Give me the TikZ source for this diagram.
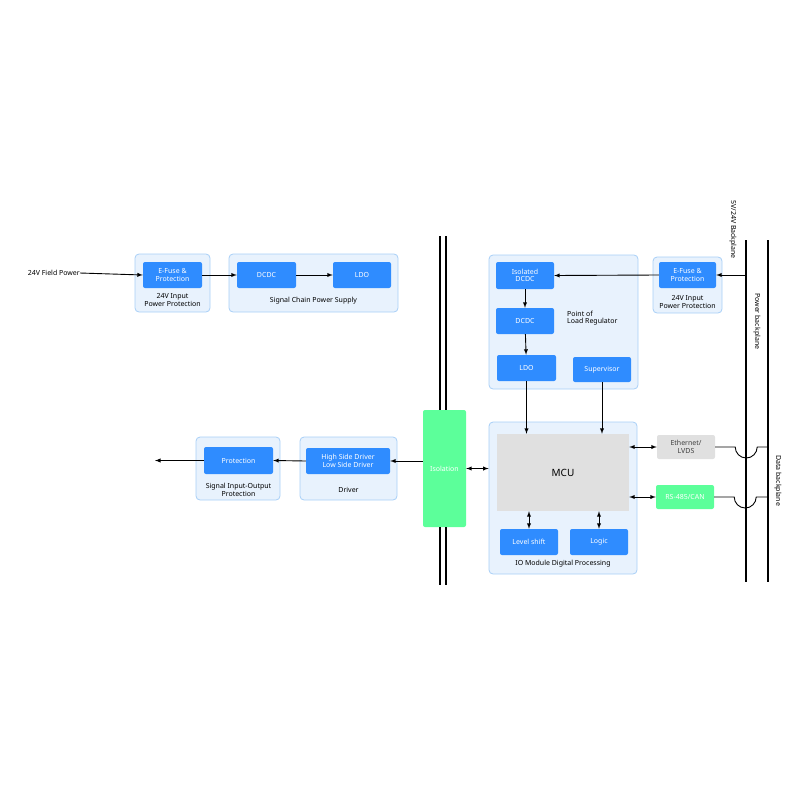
\documentclass[tikz,border=0pt]{standalone}
\usepackage{fontspec}
\setmainfont{Noto Sans}
\usetikzlibrary{positioning,calc,arrows}
\definecolor{boxblue}{HTML}{2F8CFF}
\definecolor{grpfill}{HTML}{E8F2FD}
\definecolor{grpline}{HTML}{A8CFF7}
\definecolor{mcugray}{HTML}{E0E0E0}
\definecolor{isogreen}{HTML}{5CFF9A}
\begin{document}
\begin{tikzpicture}
	[   x=1pt,y=-1pt,
		font=\fontsize{7}{8}\selectfont,
		grp/.style={draw=grpline,fill=grpfill,rounded corners=4pt,line width=0.8pt},
		blk/.style={fill=#1,rounded corners=2pt,text=white,font=\fontsize{7}{7.5}\selectfont\bfseries,align=center,inner sep=0pt},
		lbl/.style={align=center,inner sep=0pt,font=\fontsize{7}{7.5}\selectfont},
	]
	\tikzset{normal arrow/.style={draw,line width=0.9pt,-latex},
		both arrow/.style={draw,line width=0.9pt,latex-latex},
		bus/.style={draw,line width=1.3pt}}
	\useasboundingbox (0,0) rectangle (800,800);
	
	% groups
	\node[grp,minimum width=75,minimum height=58] (g-in) at (172.5,283) {};
	\node[grp,minimum width=169,minimum height=58] (g-sc) at (313.5,283) {};
	\node[grp,minimum width=149,minimum height=134] (g-pol) at (563.5,322) {};
	\node[grp,minimum width=69,minimum height=56] (g-bp) at (687.5,285) {};
	\node[grp,minimum width=148,minimum height=152] (g-io) at (563,498) {};
	\node[grp,minimum width=97,minimum height=63] (g-drv) at (348.5,468.5) {};
	\node[grp,minimum width=84,minimum height=63] (g-prot) at (238,468.5) {};
	
	% blocks
	\node[blk=boxblue,minimum width=59,minimum height=26] (efuse-in) at (172.5,275) {E-Fuse \&\\Protection};
	\node[blk=boxblue,minimum width=59,minimum height=26] (dcdc-sc) at (266.5,275) {DCDC};
	\node[blk=boxblue,minimum width=58,minimum height=26] (ldo-sc) at (362,275) {LDO};
	\node[blk=boxblue,minimum width=58,minimum height=27] (isodcdc) at (525,275.5) {Isolated\\DCDC};
	\node[blk=boxblue,minimum width=58,minimum height=26] (dcdc-pol) at (525,321) {DCDC};
	\node[blk=boxblue,minimum width=59,minimum height=26] (ldo-pol) at (526.5,368) {LDO};
	\node[blk=boxblue,minimum width=58,minimum height=25] (sup) at (602,369.5) {Supervisor};
	\node[blk=boxblue,minimum width=57,minimum height=26] (efuse-bp) at (687.5,275) {E-Fuse \&\\Protection};
	\node[fill=mcugray,minimum width=132,minimum height=77,inner sep=0pt,font=\fontsize{10}{12}\selectfont] (mcu) at (563,472.5) {MCU};
	\node[blk=boxblue,minimum width=58,minimum height=26] (lvl) at (529,542) {Level shift};
	\node[blk=boxblue,minimum width=58,minimum height=26] (logic) at (599,542) {Logic};
	\node[fill=mcugray,rounded corners=2pt,minimum width=58,minimum height=24,inner sep=0pt,align=center,text=black!75] (eth) at (686,447) {Ethernet/\\LVDS};
	\node[blk=isogreen,minimum width=58,minimum height=24] (rs485) at (685,497) {RS-485/CAN};
	\node[blk=isogreen,minimum width=43,minimum height=117] (iso) at (444.5,468.5) {Isolation};
	\node[blk=boxblue,minimum width=84,minimum height=26] (hsd) at (348,461) {High Side Driver\\Low Side Driver};
	\node[blk=boxblue,minimum width=69,minimum height=27] (prot) at (238.5,460.5) {Protection};
	
	% group labels
	\node[lbl] (l-in) at (172.5,300) {24V Input\\Power Protection};
	\node[lbl] (l-sc) at (313.5,301) {Signal Chain Power Supply};
	\node[lbl,align=left,anchor=west] (l-pol) at (567,318) {Point of\\Load Regulator};
	\node[lbl] (l-bp) at (687.5,302) {24V Input\\Power Protection};
	\node[lbl] (l-io) at (563,564) {IO Module Digital Processing};
	\node[lbl] (l-drv) at (348.5,490) {Driver};
	\node[lbl] (l-prot) at (238.5,490) {Signal Input-Output\\Protection};
	\node[lbl,anchor=east] (field) at (80,273) {24V Field Power};
	\node[lbl,rotate=-90,anchor=west] (l-5v) at (733,200) {5V/24V Backplane};
	\node[lbl,rotate=-90,anchor=west] (l-pwr) at (757,293) {Power backplane};
	\node[lbl,rotate=-90,anchor=west] (l-data) at (778,455) {Data backplane};
	
	% backplane and isolation lines
	\coordinate (pb-top) at (746,240); \coordinate (pb-bot) at (746,582);
	\coordinate (db-top) at (768,240); \coordinate (db-bot) at (768,582);
	\path[bus] (pb-top) -- (pb-bot);
	\path[bus] (db-top) -- (db-bot);
	\foreach \x in {440,446}
	{
		\path[bus] (\x,236) -- (\x,410);
		\path[bus] (\x,527) -- (\x,585);
	}
	
	% power path
	\path[normal arrow] (field.east) -- (efuse-in.west);
	\path[normal arrow] (efuse-in.east) -- (dcdc-sc.west);
	\path[normal arrow] (dcdc-sc.east) -- (ldo-sc.west);
	\coordinate (pb-tap) at (746,275);
	\path[normal arrow] (pb-tap) -- (efuse-bp.east);
	\path[normal arrow] (efuse-bp.west) -- (isodcdc.east);
	\path[normal arrow] (isodcdc) -- (dcdc-pol);
	\path[normal arrow] (dcdc-pol) -- (ldo-pol);
	\path[normal arrow] (ldo-pol.south) -- (ldo-pol.south |- mcu.north);
	\path[normal arrow] (sup.south) -- (sup.south |- mcu.north);
	
	% signal path
	\path[both arrow] (lvl.north) -- (lvl.north |- mcu.south);
	\path[both arrow] (logic.north) -- (logic.north |- mcu.south);
	\path[both arrow] (mcu.east |- eth.west) -- (eth.west);
	\path[both arrow] (mcu.east |- rs485.west) -- (rs485.west);
	\path[both arrow] (iso.east) -- (g-io.west |- iso.east);
	\path[normal arrow] (iso.west |- hsd.east) -- (hsd.east);
	\path[normal arrow] (hsd.west) -- (prot.west -| prot.east);
	\coordinate (out) at (155,460.5);
	\path[normal arrow] (prot.west) -- (out);
	\foreach \n in {eth,rs485}
	{
		\draw[line width=0.9pt] (\n.east) -- ($(\n.east)!0!(\n.east)+(20,0)$) arc[start angle=180,end angle=0,radius=11] -- (\n.east -| db-top);
	}
\end{tikzpicture}
\end{document}
